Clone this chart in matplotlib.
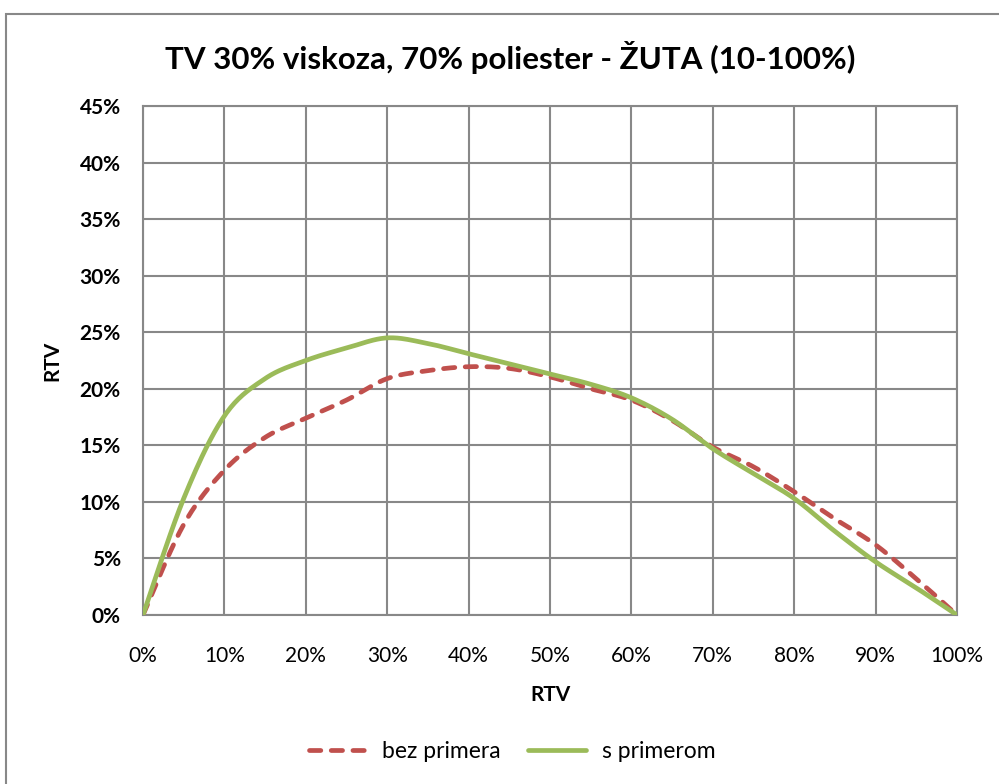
import numpy as np
import matplotlib
matplotlib.use('Agg')
import matplotlib.pyplot as plt
from matplotlib.patches import Rectangle
from matplotlib.ticker import PercentFormatter

plt.rcParams['font.family'] = ['Lato', 'DejaVu Sans']

# RTV values (%)
rtv_x = [0, 5, 10, 15, 20, 25, 30, 35, 40, 45, 50, 55, 60, 65, 70, 75, 80, 85, 90, 95, 100]
bez_primera = [0, 8.0, 12.8, 15.7, 17.4, 19.0, 20.9, 21.6, 21.95, 21.8, 21.05, 20.0, 19.0,
               17.2, 14.85, 13.1, 10.9, 8.5, 6.2, 3.2, 0]
s_primerom = [0, 10.3, 17.6, 20.9, 22.5, 23.6, 24.5, 24.0, 23.1, 22.2, 21.3, 20.4, 19.2,
              17.3, 14.7, 12.5, 10.3, 7.4, 4.7, 2.4, 0]
x_ticks = list(range(0, 101, 10))
y_ticks = list(range(0, 46, 5))

title = 'TV 30% viskoza, 70% poliester - ŽUTA (10-100%)'


def smooth(x, y, n=20):
    # Catmull-Rom, like Excel "smoothed line"
    x = np.asarray(x, float)
    y = np.asarray(y, float)
    px = np.concatenate([[x[0]], x, [x[-1]]])
    py = np.concatenate([[y[0]], y, [y[-1]]])
    xs, ys = [], []
    t = np.linspace(0, 1, n, endpoint=False)
    for i in range(1, len(px) - 2):
        p0, p1, p2, p3 = (np.array([px[j], py[j]]) for j in range(i - 1, i + 3))
        c1 = p1 + (p2 - p0) / 6
        c2 = p2 - (p3 - p1) / 6
        for tt in t:
            b = ((1 - tt) ** 3) * p1 + 3 * ((1 - tt) ** 2) * tt * c1 + 3 * (1 - tt) * tt ** 2 * c2 + tt ** 3 * p2
            xs.append(b[0])
            ys.append(b[1])
    xs.append(x[-1])
    ys.append(y[-1])
    return xs, ys


fig = plt.figure(figsize=(9.99, 7.84), dpi=100)
fig.patches.append(Rectangle((6 / 999, -0.05), 1.1, 1 - 14 / 784 + 0.05, transform=fig.transFigure,
                             fill=False, edgecolor='#888888', linewidth=1.5))
ax = fig.add_axes([143 / 999, 1 - 615 / 784, (957 - 143) / 999, (615 - 106) / 784])

xs, ys = smooth(rtv_x, bez_primera)
ax.plot(xs, ys, color='#C0504D', linewidth=3.4, linestyle=(0, (2.4, 2.2)),
        dash_capstyle='round', label='bez primera', zorder=3)
xs, ys = smooth(rtv_x, s_primerom)
ax.plot(xs, ys, color='#9BBB59', linewidth=3.4, solid_capstyle='round', label='s primerom', zorder=3)

ax.set_xlim(0, 100)
ax.set_ylim(0, 45)
ax.set_xticks(x_ticks)
ax.set_yticks(y_ticks)
ax.xaxis.set_major_formatter(PercentFormatter(decimals=0))
ax.yaxis.set_major_formatter(PercentFormatter(decimals=0))
ax.tick_params(length=0, labelsize=15, colors='black')
ax.tick_params(axis='x', pad=22)
ax.tick_params(axis='y', pad=16)
for lab in ax.get_yticklabels():
    lab.set_fontweight('bold')
ax.grid(True, color='#888888', linewidth=1.5)
for s in ax.spines.values():
    s.set_color('#888888')
    s.set_linewidth(1.5)

ax.set_xlabel('RTV', fontsize=15, fontweight='bold', labelpad=14)
ax.set_ylabel('RTV', fontsize=15, fontweight='bold', labelpad=12)
fig.text(510 / 999, 1 - 57 / 784, title, ha='center', va='center', fontsize=22.5, fontweight='bold')

ax.legend(loc='center', bbox_to_anchor=((512 - 143) / 814, 1 - (752 - 106) / (615 - 106)), ncol=2,
          frameon=False, fontsize=16.5, handlelength=2.5, handletextpad=0.7, columnspacing=1.2,
          bbox_transform=ax.transAxes)

fig.savefig('out.png', dpi=100)
